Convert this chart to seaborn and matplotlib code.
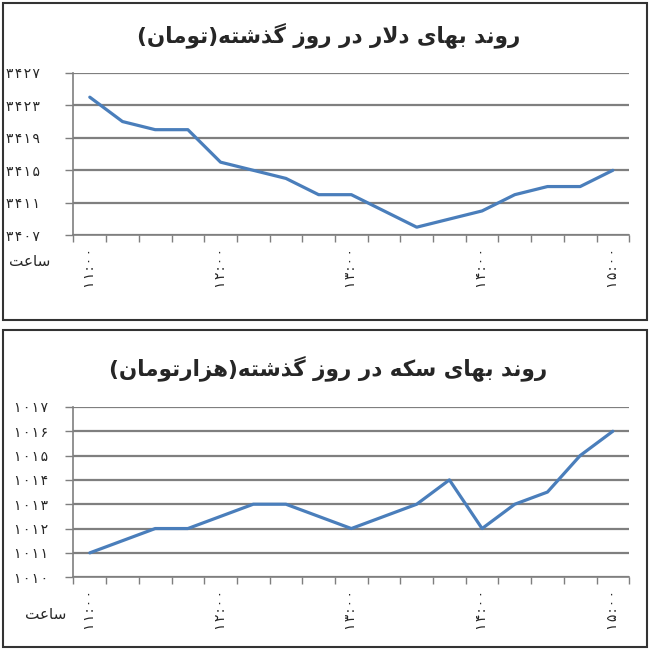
import matplotlib
matplotlib.use('Agg')
import matplotlib.pyplot as plt
import pandas as pd
import seaborn as sns
from matplotlib.patches import Rectangle

# 15-minute steps from 11:00 to 15:00
times = ['11:00', '11:15', '11:30', '11:45', '12:00', '12:15', '12:30', '12:45',
         '13:00', '13:15', '13:30', '13:45', '14:00', '14:15', '14:30', '14:45', '15:00']
dollar = [3424, 3421, 3420, 3420, 3416, 3415, 3414, 3412, 3412,
          3410, 3408, 3409, 3410, 3412, 3413, 3413, 3415]
coin = [1011, 1011.5, 1012, 1012, 1012.5, 1013, 1013, 1012.5, 1012,
        1012.5, 1013, 1014, 1012, 1013, 1013.5, 1015, 1016]
dollar_ticks = [3407, 3411, 3415, 3419, 3423, 3427]
coin_ticks = [1010, 1011, 1012, 1013, 1014, 1015, 1016, 1017]

title_dollar = 'روند بهای دلار در روز گذشته(تومان)'
title_coin = 'روند بهای سکه در روز گذشته(هزارتومان)'
hour_label = 'ساعت'

# minimal arabic shaping: isolated, final, initial, medial
FORMS = {
    'ا': (0xFE8D, 0xFE8E), 'د': (0xFEA9, 0xFEAA), 'ذ': (0xFEAB, 0xFEAC),
    'ر': (0xFEAD, 0xFEAE), 'ز': (0xFEAF, 0xFEB0), 'و': (0xFEED, 0xFEEE),
    'ب': (0xFE8F, 0xFE90, 0xFE91, 0xFE92), 'ت': (0xFE95, 0xFE96, 0xFE97, 0xFE98),
    'س': (0xFEB1, 0xFEB2, 0xFEB3, 0xFEB4), 'ش': (0xFEB5, 0xFEB6, 0xFEB7, 0xFEB8),
    'ع': (0xFEC9, 0xFECA, 0xFECB, 0xFECC), 'ل': (0xFEDD, 0xFEDE, 0xFEDF, 0xFEE0),
    'م': (0xFEE1, 0xFEE2, 0xFEE3, 0xFEE4), 'ن': (0xFEE5, 0xFEE6, 0xFEE7, 0xFEE8),
    'ه': (0xFEE9, 0xFEEA, 0xFEEB, 0xFEEC), 'ی': (0xFBFC, 0xFBFD, 0xFBFE, 0xFBFF),
    'ک': (0xFB8E, 0xFB8F, 0xFB90, 0xFB91), 'گ': (0xFB92, 0xFB93, 0xFB94, 0xFB95),
}


def dual(c):
    return c in FORMS and len(FORMS[c]) == 4


def shape(text):
    out = []
    i = 0
    while i < len(text):
        c = text[i]
        prev = text[i - 1] if i > 0 else ''
        nxt = text[i + 1] if i + 1 < len(text) else ''
        if c == 'ل' and nxt == 'ا':
            out.append(chr(0xFEFC if dual(prev) else 0xFEFB))
            i += 2
            continue
        if c in FORMS:
            p = dual(prev)
            n = dual(c) and nxt in FORMS
            idx = {(False, False): 0, (True, False): 1, (False, True): 2, (True, True): 3}[(p, n)]
            out.append(chr(FORMS[c][idx]))
        else:
            out.append(c)
        i += 1
    vis = ''.join(reversed(out))
    return vis.translate(str.maketrans('()', ')('))


def fa_digits(s, gap='\u200a'):
    s = str(s).translate(str.maketrans('0123456789', '۰۱۲۳۴۵۶۷۸۹'))
    return gap.join(s)


sns.set_style('white')
plt.rcParams['font.family'] = ['DejaVu Sans']

fig = plt.figure(figsize=(6.5, 6.5), dpi=100)

# panel frames
fig.patches.append(Rectangle((0.004, 0.508), 0.992, 0.488, transform=fig.transFigure,
                             fill=False, edgecolor='#333333', lw=1.5))
fig.patches.append(Rectangle((0.004, 0.004), 0.992, 0.488, transform=fig.transFigure,
                             fill=False, edgecolor='#333333', lw=1.5))

ax1 = fig.add_axes([0.113, 0.638, 0.855, 0.25])
ax2 = fig.add_axes([0.113, 0.112, 0.855, 0.262])

panels = [(ax1, dollar, dollar_ticks, title_dollar, 0.946, 0.597, 0.045, 18),
          (ax2, coin, coin_ticks, title_coin, 0.434, 0.054, 0.07, 12)]

for ax, values, yt, title, ty, hy, hx, ypad in panels:
    df = pd.DataFrame({'pos': range(len(times)), 'value': values})
    sns.lineplot(data=df, x='pos', y='value', ax=ax, color='#4a7ebb', linewidth=2.3)
    ax.set_xlim(-0.5, len(times) - 0.5)
    ax.set_ylim(yt[0], yt[-1])
    ax.set_yticks(yt)
    ax.set_yticklabels([fa_digits(v) for v in yt], fontsize=10)
    ax.yaxis.grid(True, color='#7f7f7f', lw=1.6)
    ax.set_axisbelow(True)
    ax.set_xticks([x - 0.5 for x in range(len(times) + 1)])
    ax.set_xticklabels([])
    ax.set_xticks(range(0, len(times), 4), minor=True)
    ax.set_xticklabels([fa_digits(times[i]) for i in range(0, len(times), 4)],
                       minor=True, rotation=90, fontsize=10)
    ax.tick_params(axis='x', which='major', length=5, width=1, color='#7f7f7f', direction='out', bottom=True)
    ax.tick_params(axis='x', which='minor', length=0, pad=9)
    ax.tick_params(axis='y', length=6, width=1, color='#7f7f7f', direction='out', left=True, pad=ypad)
    for s in ['top', 'right']:
        ax.spines[s].set_visible(False)
    for s in ['left', 'bottom']:
        ax.spines[s].set_color('#7f7f7f')
        ax.spines[s].set_linewidth(1.2)
    ax.set_xlabel('')
    ax.set_ylabel('')
    fig.text(0.505, ty, shape(title), ha='center', va='center', fontsize=15.5, weight='bold')
    fig.text(hx, hy, shape(hour_label), ha='center', va='center', fontsize=11)

fig.savefig('out.png', dpi=100)
